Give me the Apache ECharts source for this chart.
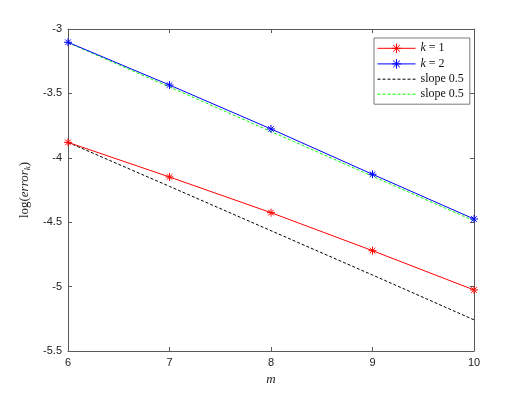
<!DOCTYPE html>
<html><head><meta charset="utf-8">
<script src="https://cdn.jsdelivr.net/npm/echarts@6/dist/echarts.min.js"></script>
<style>html,body{margin:0;padding:0;background:#fff}#c{width:525px;height:394px}</style>
</head><body><div id="c"></div>
<script>
var mValues = [6, 7, 8, 9, 10];
var k1Values = [-3.880, -4.149, -4.426, -4.721, -5.026];
var k2Values = [-3.103, -3.435, -3.776, -4.128, -4.475];
var slopeBlack = [-3.880, -4.222, -4.566, -4.910, -5.258];
var slopeGreen = [-3.106, -3.450, -3.796, -4.143, -4.489];
var xTicks = [6, 7, 8, 9, 10];
var yTicks = [-5.5, -5, -4.5, -4, -3.5, -3];

function pairs(ys){ return mValues.map(function(x,i){return [x, ys[i]];}); }
var star = 'path://M0,-5L0,5M-5,0L5,0M-3.5,-3.5L3.5,3.5M-3.5,3.5L3.5,-3.5';
var axCol = '#5a5a5a';
var serif = 'Liberation Serif';
var chart = echarts.init(document.getElementById('c'), null, {renderer:'canvas'});
function starSeries(name, data, color){
  return {name:name, type:'line', data:pairs(data), symbol:star, symbolSize:8,
    lineStyle:{color:color, width:1}, itemStyle:{color:'none', borderColor:color, borderWidth:1},
    z:3, animation:false};
}
chart.setOption({
  animation:false,
  grid:{left:68, right:51, top:29, bottom:43},
  legend:{
    orient:'vertical', left:374, top:38, width:91,
    backgroundColor:'#fff', borderColor:'#7a7a7a', borderWidth:1,
    padding:[3,6,3,3], itemGap:1, itemWidth:38, itemHeight:12,
    textStyle:{fontFamily:serif, fontSize:12, color:'#111', lineHeight:14,
      rich:{i:{fontFamily:serif, fontStyle:'italic', fontSize:12, color:'#111', lineHeight:14}}},
    formatter:function(n){
      if(n==='k1') return '{i|k} = 1';
      if(n==='k2') return '{i|k} = 2';
      return 'slope 0.5';
    },
    data:[
      {name:'k1', lineStyle:{width:1, color:'#ff0000'}, itemStyle:{color:'none', borderColor:'#ff0000', borderWidth:1}},
      {name:'k2', lineStyle:{width:1, color:'#0000ff'}, itemStyle:{color:'none', borderColor:'#0000ff', borderWidth:1}},
      {name:'s1', lineStyle:{width:1, color:'#000', type:[3,2]}, itemStyle:{opacity:0}},
      {name:'s2', lineStyle:{width:1, color:'#00ff00', type:[3,2]}, itemStyle:{opacity:0}}
    ]
  },
  xAxis:[{
    type:'value', min:6, max:10, interval:1,
    name:'m', nameLocation:'middle', nameGap:22,
    nameTextStyle:{fontFamily:serif, fontStyle:'italic', fontSize:13, color:'#222'},
    axisLine:{show:true, lineStyle:{color:axCol}},
    axisTick:{show:true, inside:true, length:4, lineStyle:{color:axCol}},
    axisLabel:{fontFamily:'Liberation Sans', fontSize:11, color:'#222', margin:6},
    splitLine:{show:false}
  },{
    type:'value', min:6, max:10, interval:1, position:'top',
    axisLine:{show:true, lineStyle:{color:axCol}},
    axisTick:{show:true, inside:true, length:4, lineStyle:{color:axCol}},
    axisLabel:{show:false}, splitLine:{show:false}
  }],
  yAxis:[{
    type:'value', min:-5.5, max:-3, interval:0.5,
    name:'{n|log(}{it|error}{sub|k}{n|)}', nameLocation:'middle', nameGap:32, nameRotate:90,
    nameTextStyle:{rich:{
      n:{fontFamily:serif, fontSize:13, color:'#222'},
      it:{fontFamily:serif, fontStyle:'italic', fontSize:13, color:'#222'},
      sub:{fontFamily:serif, fontStyle:'italic', fontSize:9, color:'#222', padding:[7,0,0,0]}
    }},
    axisLine:{show:true, lineStyle:{color:axCol}},
    axisTick:{show:true, inside:true, length:4, lineStyle:{color:axCol}},
    axisLabel:{fontFamily:'Liberation Sans', fontSize:11, color:'#222', margin:6},
    splitLine:{show:false}
  },{
    type:'value', min:-5.5, max:-3, interval:0.5, position:'right',
    axisLine:{show:true, lineStyle:{color:axCol}},
    axisTick:{show:true, inside:true, length:4, lineStyle:{color:axCol}},
    axisLabel:{show:false}, splitLine:{show:false}
  }],
  series:[
    starSeries('k1', k1Values, '#ff0000'),
    starSeries('k2', k2Values, '#0000ff'),
    {name:'s1', type:'line', data:pairs(slopeBlack), symbol:'none', showSymbol:false,
      lineStyle:{color:'#000', width:1, type:[3,2]}, itemStyle:{color:'#000'}, z:2},
    {name:'s2', type:'line', data:pairs(slopeGreen), symbol:'none', showSymbol:false,
      lineStyle:{color:'#00ff00', width:1, type:[3,2]}, itemStyle:{color:'#00ff00'}, z:2}
  ]
});
</script></body></html>
